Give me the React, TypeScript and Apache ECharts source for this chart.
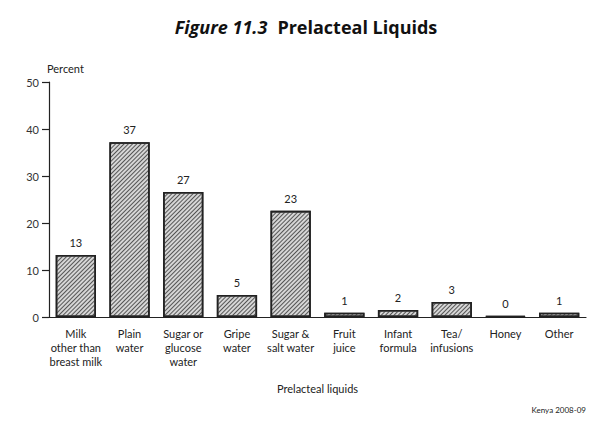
import React, { useEffect, useRef } from "react";
import * as echarts from "echarts";

const categories = [
  "Milk\nother than\nbreast milk",
  "Plain\nwater",
  "Sugar or\nglucose\nwater",
  "Gripe\nwater",
  "Sugar &\nsalt water",
  "Fruit\njuice",
  "Infant\nformula",
  "Tea/\ninfusions",
  "Honey",
  "Other",
];
const values = [13.2, 37.2, 26.6, 4.7, 22.6, 0.9, 1.5, 3.2, 0.2, 0.9];
const valueLabels = ["13", "37", "27", "5", "23", "1", "2", "3", "0", "1"];
const yTicks = [0, 10, 20, 30, 40, 50];

const FONT = "Lato, 'Open Sans', sans-serif";

export default function App() {
  const ref = useRef<HTMLDivElement>(null);
  useEffect(() => {
    if (!ref.current) return;
    const chart = echarts.init(ref.current, undefined, { renderer: "svg" });
    chart.setOption({
      animation: false,
      backgroundColor: "#ffffff",
      title: {
        text: "{a|Figure 11.3}  {b|Prelacteal Liquids}",
        left: "center",
        top: 13,
        textStyle: {
          rich: {
            a: { fontFamily: "'Open Sans', sans-serif", fontStyle: "italic", fontWeight: "bold", fontSize: 18, color: "#111" },
            b: { fontFamily: "'Open Sans', sans-serif", fontWeight: "bold", fontSize: 18, color: "#111" },
          },
        },
      },
      grid: { left: 49, right: 26, top: 82, bottom: 113, containLabel: false },
      xAxis: {
        type: "category",
        data: categories,
        name: "Prelacteal liquids",
        nameLocation: "middle",
        nameGap: 66,
        nameTextStyle: { fontFamily: FONT, fontSize: 11, color: "#222" },
        axisLine: { lineStyle: { color: "#222", width: 1.2 } },
        axisTick: { show: false },
        axisLabel: { fontFamily: FONT, fontSize: 11, color: "#222", lineHeight: 14, margin: 9, interval: 0 },
      },
      yAxis: {
        type: "value",
        min: 0,
        max: 50,
        interval: 10,
        name: "Percent",
        nameLocation: "end",
        nameGap: 8,
        nameTextStyle: { fontFamily: FONT, fontSize: 11, color: "#222", align: "left", padding: [0, 0, 0, -2] },
        axisLine: { show: true, lineStyle: { color: "#222", width: 1.2 } },
        axisTick: { show: true, length: 7, lineStyle: { color: "#222", width: 1.2 } },
        splitLine: { show: false },
        axisLabel: {
          fontFamily: FONT,
          fontSize: 11,
          color: "#333",
          margin: 10,
          formatter: (v: number) => (yTicks.includes(v) ? String(v) : ""),
        },
      },
      series: [
        {
          type: "bar",
          data: values,
          barWidth: "75%",
          itemStyle: {
            color: "#d6d6d6",
            borderColor: "#222",
            borderWidth: 1.6,
            decal: {
              symbol: "rect",
              symbolSize: 1,
              color: "#555",
              dashArrayX: [1, 0],
              dashArrayY: [1, 1.5],
              rotation: -Math.PI / 4,
            },
          },
          label: {
            show: true,
            position: "top",
            distance: 7,
            fontFamily: FONT,
            fontSize: 11,
            color: "#222",
            formatter: (p: any) => valueLabels[p.dataIndex],
          },
        },
      ],
      graphic: [
        {
          type: "text",
          right: 26,
          top: 406,
          style: { text: "Kenya 2008-09", font: `8px ${FONT}`, fill: "#222" },
        },
      ],
    });
    return () => chart.dispose();
  }, []);
  return <div ref={ref} style={{ position: "absolute", left: 0, top: 0, width: 612, height: 430 }} />;
}
